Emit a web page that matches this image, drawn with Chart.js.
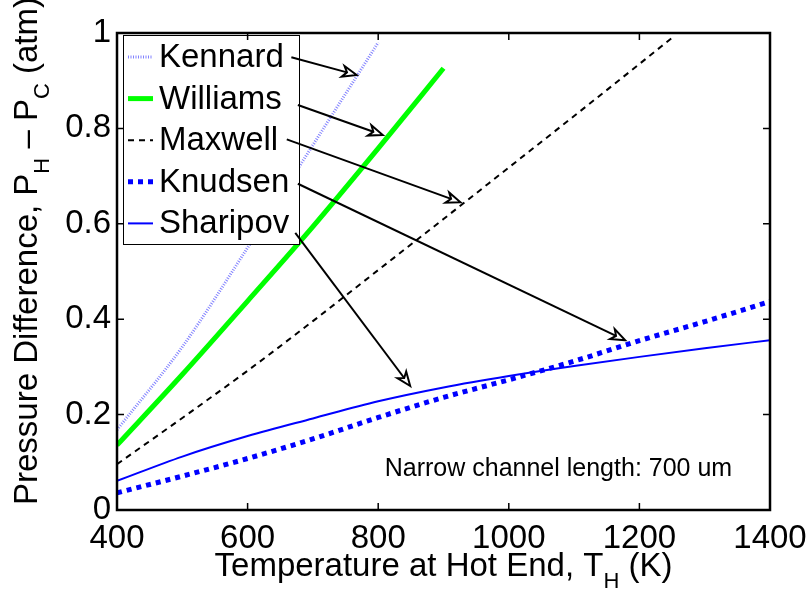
<!DOCTYPE html>
<html>
<head>
<meta charset="utf-8">
<script src="https://cdn.jsdelivr.net/npm/chart.js@4.4.1/dist/chart.umd.min.js"></script>
<style>
    html, body { margin: 0; padding: 0; background: #ffffff; }
    #wrap { width: 812px; height: 589px; }
</style>
</head>
<body>
<div id="wrap"><canvas id="chart" width="812" height="589"></canvas></div>
<script>
const FONT = "'Liberation Sans', Arial, Helvetica, sans-serif";

// Temperature at hot end (K) for each curve
const tempKennard = [400, 500, 600, 700, 800];
const tempWilliams = [400, 500, 600, 700, 800, 900];
const tempMaxwell = [400, 500, 600, 700, 800, 900, 1000, 1100, 1200, 1250];
const tempFull = [400, 500, 600, 700, 800, 900, 1000, 1100, 1200, 1300, 1400];

// Pressure difference (atm)
const pKennard = [0.168, 0.342, 0.55, 0.765, 0.98];
const pWilliams = [0.136, 0.284, 0.438, 0.594, 0.758, 0.926];
const pMaxwell = [0.096, 0.193, 0.292, 0.396, 0.503, 0.61, 0.718, 0.826, 0.935, 0.99];
const pKnudsen = [0.036, 0.071, 0.108, 0.149, 0.194, 0.236, 0.273, 0.312, 0.355, 0.395, 0.437];
const pSharipov = [0.061, 0.112, 0.155, 0.192, 0.228, 0.257, 0.281, 0.302, 0.321, 0.339, 0.356];

const seriesNames = ['Kennard', 'Williams', 'Maxwell', 'Knudsen', 'Sharipov'];

const xTicks = [400, 600, 800, 1000, 1200, 1400];
const yTicks = [0, 0.2, 0.4, 0.6, 0.8, 1];

// arrows from the legend labels to the curves: [T, P] of tail and head
const arrowTails = [[667, 0.949], [677, 0.849], [660, 0.777], [677, 0.684], [673, 0.581]];
const arrowHeads = [[767, 0.912], [807, 0.786], [926, 0.645], [1178, 0.356], [849, 0.260]];

const noteText = 'Narrow channel length: 700 um';
const notePos = [810, 0.072];

const toPoints = (xs, ys) => xs.map((x, i) => ({ x: x, y: ys[i] }));

function drawArrow(ctx, x0, y0, x1, y1) {
    const ang = Math.atan2(y1 - y0, x1 - x0);
    const c = Math.cos(ang), s = Math.sin(ang);
    const len = 14, half = 5.5, notch = 10;
    ctx.beginPath();
    ctx.moveTo(x0, y0);
    ctx.lineTo(x1 - c * notch, y1 - s * notch);
    ctx.stroke();
    const bx = x1 - c * len, by = y1 - s * len;
    ctx.beginPath();
    ctx.moveTo(x1, y1);
    ctx.lineTo(bx - s * half, by + c * half);
    ctx.lineTo(x1 - c * notch, y1 - s * notch);
    ctx.lineTo(bx + s * half, by - c * half);
    ctx.closePath();
    ctx.stroke();
}

// legend box inside the axes, like the original figure
const legendBox = {
    id: 'legendBox',
    afterDatasetsDraw(chart) {
        const { ctx, chartArea } = chart;
        const left = chartArea.left + 6, top = chartArea.top + 2;
        const w = 176, h = 209, row = 41.6;
        ctx.save();
        ctx.fillStyle = '#ffffff';
        ctx.fillRect(left, top, w, h);
        ctx.strokeStyle = '#000000';
        ctx.lineWidth = 1;
        ctx.strokeRect(left + 0.5, top + 0.5, w, h);
        chart.data.datasets.forEach((ds, i) => {
            const cy = top + 22 + i * row;
            ctx.beginPath();
            ctx.strokeStyle = ds.borderColor;
            ctx.lineWidth = ds.borderWidth;
            ctx.setLineDash(ds.borderDash || []);
            ctx.moveTo(left + 5, cy);
            ctx.lineTo(left + 30, cy);
            ctx.stroke();
            ctx.setLineDash([]);
            ctx.fillStyle = '#000000';
            ctx.font = `33px ${FONT}`;
            ctx.textBaseline = 'middle';
            ctx.textAlign = 'left';
            ctx.fillText(ds.label, left + 36, cy + 1);
        });
        ctx.restore();
    }
};

const arrows = {
    id: 'arrows',
    afterDatasetsDraw(chart) {
        const { ctx, scales: { x, y } } = chart;
        ctx.save();
        ctx.strokeStyle = '#000000';
        ctx.lineWidth = 2;
        arrowTails.forEach((t, i) => {
            const hd = arrowHeads[i];
            drawArrow(ctx, x.getPixelForValue(t[0]), y.getPixelForValue(t[1]),
                x.getPixelForValue(hd[0]), y.getPixelForValue(hd[1]));
        });
        ctx.font = `25px ${FONT}`;
        ctx.fillStyle = '#000000';
        ctx.textAlign = 'left';
        ctx.textBaseline = 'alphabetic';
        ctx.fillText(noteText, x.getPixelForValue(notePos[0]), y.getPixelForValue(notePos[1]));
        ctx.restore();
    }
};

// box and inward ticks (MATLAB style)
const frame = {
    id: 'frame',
    afterDraw(chart) {
        const { ctx, chartArea: { left, right, top, bottom }, scales: { x, y } } = chart;
        ctx.save();
        ctx.strokeStyle = '#000000';
        ctx.lineWidth = 1.5;
        const tl = 7;
        ctx.beginPath();
        xTicks.forEach(v => {
            const px = x.getPixelForValue(v);
            ctx.moveTo(px, bottom); ctx.lineTo(px, bottom - tl);
            ctx.moveTo(px, top); ctx.lineTo(px, top + tl);
        });
        yTicks.forEach(v => {
            const py = y.getPixelForValue(v);
            ctx.moveTo(left, py); ctx.lineTo(left + tl, py);
            ctx.moveTo(right, py); ctx.lineTo(right - tl, py);
        });
        ctx.stroke();
        ctx.lineWidth = 2.5;
        ctx.strokeRect(left, top, right - left, bottom - top);
        ctx.restore();
    }
};

// axis titles with subscripts
function drawParts(ctx, parts, cx, baseY) {
    let total = 0;
    parts.forEach(p => { ctx.font = `${p.size}px ${FONT}`; p.w = ctx.measureText(p.t).width; total += p.w; });
    let xx = cx - total / 2;
    parts.forEach(p => {
        ctx.font = `${p.size}px ${FONT}`;
        ctx.fillText(p.t, xx, baseY + (p.dy || 0));
        xx += p.w;
    });
}

const axisTitles = {
    id: 'axisTitles',
    afterDraw(chart) {
        const { ctx, chartArea } = chart;
        ctx.save();
        ctx.fillStyle = '#000000';
        ctx.textAlign = 'left';
        ctx.textBaseline = 'alphabetic';
        drawParts(ctx, [
            { t: 'Temperature at Hot End, T', size: 33 },
            { t: 'H', size: 22, dy: 12 },
            { t: ' (K)', size: 33 }
        ], (chartArea.left + chartArea.right) / 2, 576);
        ctx.translate(37, 251);
        ctx.rotate(-Math.PI / 2);
        drawParts(ctx, [
            { t: 'Pressure Difference, P', size: 33 },
            { t: 'H', size: 22, dy: 12 },
            { t: ' \u2013 P', size: 33 },
            { t: 'C', size: 22, dy: 12 },
            { t: ' (atm)', size: 33 }
        ], 0, 0);
        ctx.restore();
    }
};

new Chart(document.getElementById('chart'), {
    type: 'line',
    data: {
        datasets: [
            {
                label: seriesNames[0],
                data: toPoints(tempKennard, pKennard),
                borderColor: 'rgb(130, 130, 255)',
                borderWidth: 3,
                borderDash: [1, 1.5]
            },
            {
                label: seriesNames[1],
                data: toPoints(tempWilliams, pWilliams),
                borderColor: '#00ff00',
                borderWidth: 5
            },
            {
                label: seriesNames[2],
                data: toPoints(tempMaxwell, pMaxwell),
                borderColor: '#000000',
                borderWidth: 2,
                borderDash: [6, 5]
            },
            {
                label: seriesNames[3],
                data: toPoints(tempFull, pKnudsen),
                borderColor: '#0000ff',
                borderWidth: 5,
                borderDash: [5, 5]
            },
            {
                label: seriesNames[4],
                data: toPoints(tempFull, pSharipov),
                borderColor: '#0000ff',
                borderWidth: 2
            }
        ]
    },
    options: {
        responsive: false,
        animation: false,
        devicePixelRatio: 1,
        layout: { padding: { top: 33, right: 42, left: 0, bottom: 0 } },
        elements: {
            point: { radius: 0 },
            line: { cubicInterpolationMode: 'monotone', fill: false }
        },
        plugins: {
            legend: { display: false },
            tooltip: { enabled: false },
            title: { display: false }
        },
        scales: {
            x: {
                type: 'linear',
                min: 400,
                max: 1400,
                afterBuildTicks: s => { s.ticks = xTicks.map(v => ({ value: v })); },
                afterFit: s => { s.height = 79; s.paddingLeft = 0; s.paddingRight = 0; },
                grid: { display: false, drawTicks: false },
                border: { display: false },
                ticks: {
                    color: '#000000',
                    font: { family: FONT, size: 33 },
                    padding: 9,
                    maxRotation: 0,
                    autoSkip: false,
                    callback: v => String(v)
                }
            },
            y: {
                type: 'linear',
                min: 0,
                max: 1,
                afterBuildTicks: s => { s.ticks = yTicks.map(v => ({ value: v })); },
                afterFit: s => { s.width = 117; s.paddingTop = 0; s.paddingBottom = 0; },
                grid: { display: false, drawTicks: false },
                border: { display: false },
                ticks: {
                    color: '#000000',
                    font: { family: FONT, size: 33 },
                    padding: 6,
                    autoSkip: false,
                    callback: v => String(v)
                }
            }
        }
    },
    plugins: [legendBox, arrows, frame, axisTitles]
});
</script>
</body>
</html>
